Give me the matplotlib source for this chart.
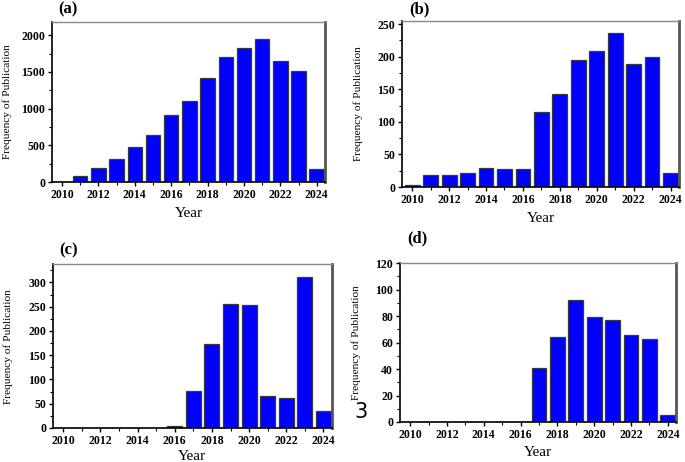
import numpy as np
import matplotlib
matplotlib.use('Agg')
import matplotlib.pyplot as plt
from matplotlib.ticker import MultipleLocator

plt.rcParams['font.family'] = ['Liberation Serif', 'DejaVu Serif']

years = list(range(2010, 2025))
pubs_a = [0, 82, 187, 319, 483, 647, 916, 1107, 1412, 1708, 1822, 1954, 1649, 1512, 173]
pubs_b = [3, 19, 19, 22, 30, 28, 27, 115, 143, 195, 209, 237, 189, 199, 21]
pubs_c = [0, 0, 0, 0, 0, 0, 4, 77, 174, 255, 253, 65, 62, 312, 36]
pubs_d = [0, 0, 0, 0, 0, 0, 0, 41, 64, 92, 79, 77, 66, 63, 5]
panel_names = ['(a)', '(b)', '(c)', '(d)']

fig = plt.figure(figsize=(6.85, 4.62), dpi=100)

rects = [[0.0759, 0.606, 0.3985, 0.3463],
         [0.587, 0.595, 0.404, 0.36],
         [0.0774, 0.0736, 0.407, 0.354],
         [0.584, 0.0866, 0.403, 0.344]]
ylims = [2180, 255, 337, 120]
ymajor = [500, 50, 50, 20]
label_pos = [(0.085, 0.997), (0.598, 0.997), (0.087, 0.475), (0.594, 0.502)]
ylab_x = [-0.148, -0.14, -0.145, -0.14]
xlab_pad = [4, 4, 2, 4]

for i, vals in enumerate([pubs_a, pubs_b, pubs_c, pubs_d]):
    ax = fig.add_axes(rects[i])
    ax.bar(years, vals, width=0.8, color='#0000ff', edgecolor='#3a3a3a', lw=0.9, zorder=2)
    ax.set_xlim(2009.45, 2024.45)
    ax.set_ylim(0, ylims[i])
    ax.xaxis.set_major_locator(MultipleLocator(2))
    ax.xaxis.set_minor_locator(MultipleLocator(1))
    ax.yaxis.set_major_locator(MultipleLocator(ymajor[i]))
    ax.yaxis.set_minor_locator(MultipleLocator(ymajor[i] / 2))
    ax.tick_params(axis='both', which='major', length=3, width=1, labelsize=8.5, pad=2)
    ax.tick_params(axis='both', which='minor', length=2, width=0.8)
    for lab in ax.get_xticklabels() + ax.get_yticklabels():
        lab.set_fontweight('bold')
    ax.spines['left'].set_linewidth(1.2)
    ax.spines['bottom'].set_linewidth(1.2)
    ax.spines['top'].set_color('#888888')
    ax.spines['top'].set_linewidth(1.0)
    ax.spines['right'].set_color('#555555')
    ax.spines['right'].set_linewidth(2.0)
    ax.set_xlabel('Year', fontsize=11, labelpad=xlab_pad[i])
    ax.set_ylabel('Frequency of Publication', fontsize=8.2)
    ax.yaxis.set_label_coords(ylab_x[i], 0.5)
    fig.text(label_pos[i][0], label_pos[i][1], panel_names[i], fontsize=12,
             fontweight='bold', va='top', ha='left')

# stray glyph in the bottom-right panel of the reference
fig.text(0.527, 0.108, '3', fontsize=15, family='DejaVu Sans', ha='center', va='center')

fig.savefig('out.png', dpi=100, facecolor='white')
